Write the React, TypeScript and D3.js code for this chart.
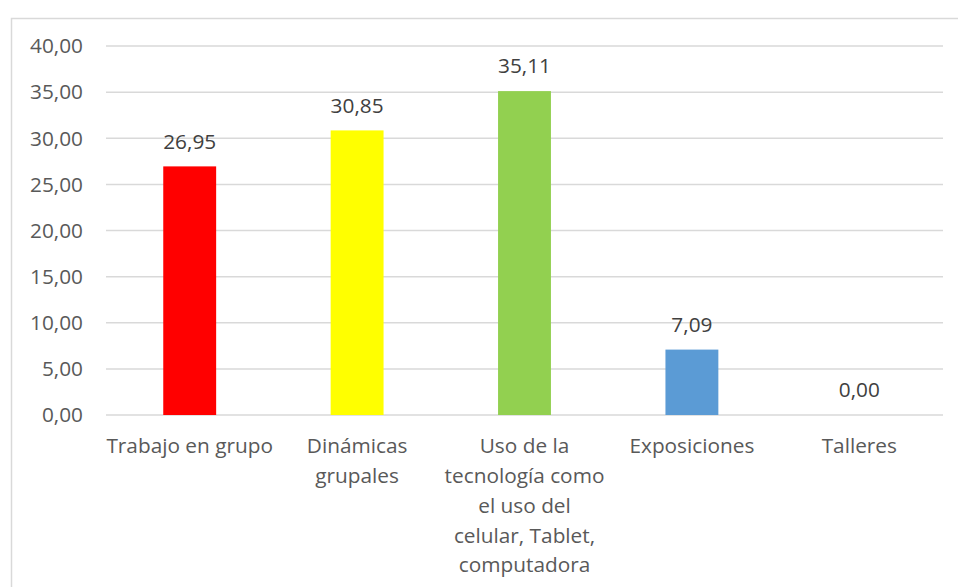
import React, { useEffect, useRef } from "react";
import * as d3 from "d3";

const categories: string[][] = [
  ["Trabajo en grupo"],
  ["Dinámicas", "grupales"],
  ["Uso de la", "tecnología como", "el uso del", "celular, Tablet,", "computadora"],
  ["Exposiciones"],
  ["Talleres"],
];
const values: number[] = [26.95, 30.85, 35.11, 7.09, 0.0];
const colors: string[] = ["#FF0000", "#FFFF00", "#92D050", "#5B9BD5", "#A5A5A5"];
const yTicks: number[] = [0, 5, 10, 15, 20, 25, 30, 35, 40];

const W = 958;
const H = 587;
const FONT = "'Open Sans', sans-serif";
const TEXT = "#595959";
const FS = 20.8;

export default function App() {
  const ref = useRef<SVGSVGElement>(null);
  useEffect(() => {
    const svg = d3.select(ref.current);
    svg.selectAll("*").remove();
    const fmt = (v: number) => v.toFixed(2).replace(".", ",");

    svg.append("rect").attr("x", 0).attr("y", 0).attr("width", W).attr("height", H).attr("fill", "#fff");
    svg.append("rect").attr("x", 11.5).attr("y", 18.5).attr("width", 950).attr("height", 620)
      .attr("fill", "none").attr("stroke", "#d9d9d9").attr("stroke-width", 1.5);

    const left = 106, right = 943, top = 46, bottom = 415;
    const x = d3.scaleBand<number>().domain(d3.range(values.length)).range([left, right]).paddingInner(0.684).paddingOuter(0.342);
    const y = d3.scaleLinear().domain([0, 40]).range([bottom, top]);

    const g = svg.append("g");
    yTicks.forEach((t) => {
      g.append("line").attr("x1", left).attr("x2", right).attr("y1", y(t)).attr("y2", y(t))
        .attr("stroke", "#d9d9d9").attr("stroke-width", 1.5);
      g.append("text").attr("x", 83).attr("y", y(t)).attr("dy", "0.35em").attr("text-anchor", "end")
        .attr("font-family", FONT).attr("font-size", FS).attr("fill", TEXT).text(fmt(t));
    });

    values.forEach((v, i) => {
      const bx = x(i)!;
      g.append("rect").attr("x", bx).attr("y", y(v)).attr("width", x.bandwidth()).attr("height", y(0) - y(v))
        .attr("fill", colors[i]);
      g.append("text").attr("x", bx + x.bandwidth() / 2).attr("y", y(v) - 25).attr("dy", "0.35em")
        .attr("text-anchor", "middle").attr("font-family", FONT).attr("font-size", FS).attr("fill", "#404040")
        .text(fmt(v));
      categories[i].forEach((line, j) => {
        g.append("text").attr("x", bx + x.bandwidth() / 2).attr("y", 446 + j * 29.8).attr("dy", "0.35em")
          .attr("text-anchor", "middle").attr("font-family", FONT).attr("font-size", FS).attr("fill", TEXT)
          .text(line);
      });
    });
  }, []);
  return (
    <svg ref={ref} width={W} height={H} style={{ position: "absolute", left: 0, top: 0, display: "block" }} />
  );
}
